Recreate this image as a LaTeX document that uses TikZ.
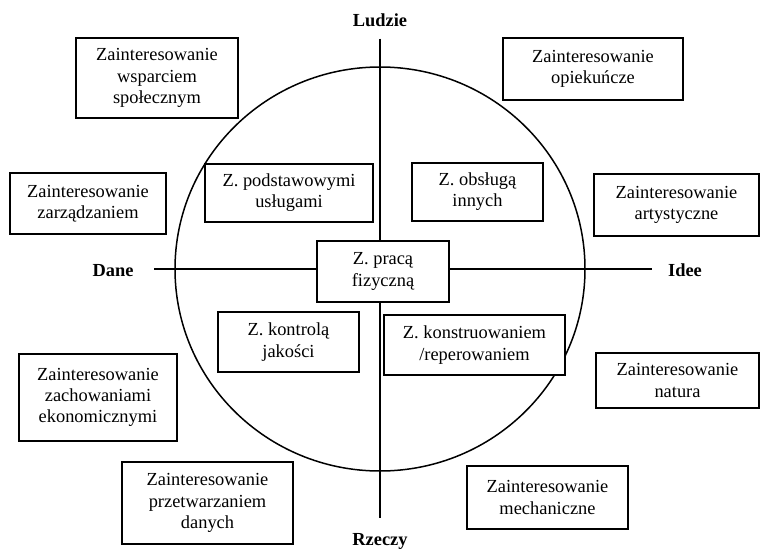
\documentclass[tikz,border=0pt]{standalone}
\usepackage{fontspec}
\setmainfont{Liberation Serif}
\begin{document}
\begin{tikzpicture}[x=0.5pt,y=-0.5pt,
  line width=0.75pt,
  box/.style={draw, fill=white, align=center, inner sep=0pt,
    font=\fontsize{9.2}{10.6}\selectfont,
    execute at begin node={\rule{0pt}{9pt}}},
  axislabel/.style={inner sep=0pt, text height=0.7em, text depth=0pt,
    font=\fontsize{9.2}{10.6}\selectfont\bfseries}]
\useasboundingbox (0,0) rectangle (760,551);

% axis labels
\node[axislabel, anchor=base] (ludzie) at (380,27) {Ludzie};
\node[axislabel, anchor=base] (rzeczy) at (380,545) {Rzeczy};
\node[axislabel, anchor=base] (dane) at (113,276) {Dane};
\node[axislabel, anchor=base] (idee) at (685,276) {Idee};

% central circle
\coordinate (O) at (380,269);
\draw (O) ellipse [x radius=102.5pt, y radius=101pt];

% axes
\draw[shorten <=5.5pt, shorten >=6pt] (ludzie.south) -- (rzeczy.north);
\draw[shorten <=10pt, shorten >=7.5pt] (dane.east) -- (idee.west);

% interest boxes
\node[box, minimum width=81pt, minimum height=40pt] (wsparcie) at (157,78)
  {Zainteresowanie\\wsparciem\\społecznym};
\node[box, minimum width=78pt, minimum height=30.5pt] (zarzadzanie) at (88,203.5)
  {Zainteresowanie\\zarządzaniem};
\node[box, minimum width=84pt, minimum height=29pt] (uslugi) at (289,193)
  {Z. podstawowymi\\usługami};
\node[box, minimum width=66pt, minimum height=30.5pt] (fizyczna) at (383,271.5)
  {Z. pracą\\fizyczną};
\node[box, minimum width=90pt, minimum height=31pt] (opieka) at (593,69)
  {Zainteresowanie\\opiekuńcze};
\node[box, minimum width=65.5pt, minimum height=29pt] (obsluga) at (477.5,192)
  {Z. obsługą\\innych};
\node[box, minimum width=82.5pt, minimum height=31pt] (artyst) at (676.5,205)
  {Zainteresowanie\\artystyczne};
\node[box, minimum width=70.5pt, minimum height=30pt] (kontrola) at (288.5,342)
  {Z. kontrolą\\jakości};
\node[box, minimum width=90.5pt, minimum height=30pt] (konstr) at (474.5,345)
  {Z. konstruowaniem\\/reperowaniem};
\node[box, minimum width=79pt, minimum height=43.5pt] (ekonom) at (98,397.5)
  {Zainteresowanie\\zachowaniami\\ekonomicznymi};
\node[box, minimum width=81.5pt, minimum height=27.5pt] (natura) at (677.5,380.5)
  {Zainteresowanie\\natura};
\node[box, minimum width=85.5pt, minimum height=41pt] (dane2) at (207.5,503)
  {Zainteresowanie\\przetwarzaniem\\danych};
\node[box, minimum width=80.5pt, minimum height=31.5pt] (mech) at (547.5,497.5)
  {Zainteresowanie\\mechaniczne};
\end{tikzpicture}
\end{document}
